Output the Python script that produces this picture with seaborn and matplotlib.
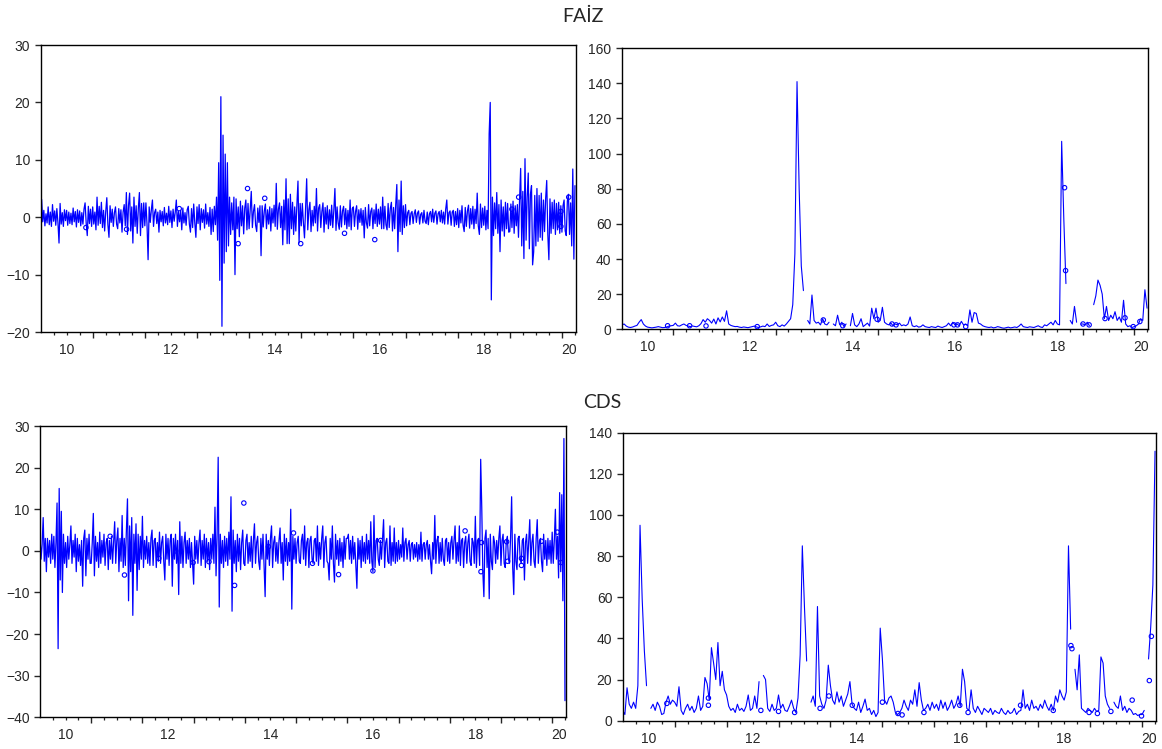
import numpy as np
import pandas as pd
import matplotlib
matplotlib.use("Agg")
import matplotlib.pyplot as plt
import seaborn as sns
from matplotlib.ticker import MultipleLocator, FixedLocator

nan = float("nan")

# all series start January 2010; returns are read at 48 points a year,
# the volatility series at 24 points a year
START_YEAR = 2010
RET_PER_YEAR = 48
VOL_PER_YEAR = 24
X_END = 2020.27
year_labels = ["10", "12", "14", "16", "18", "20"]

# FAIZ returns (two rows per year, 2010 ... 2020)
faiz_ret = [
    -3.0, 3.1, -0.8, 1.2, -1.5, 0.6, -1.0, 1.8, -1.3, 0.9, -1.6, 2.2, -0.7, 1.1, -1.4, 1.5, -0.9, -4.5, 2.4, -1.2, 0.8, -1.6, 1.3, -0.6,
    1.2, -1.4, 0.9, -1.1, 0.7, -1.3, 1.6, -0.8, 1.0, -1.7, 1.3, -0.9, 1.1, -1.5, 0.8, -1.2, 1.4, 2.5, -1.0, -3.2, 1.9, -1.1, 1.4, -1.6,
    1.8, -1.2, 0.9, -2.2, 3.5, -1.4, 1.9, -1.1, 2.6, -1.8, 1.2, -2.4, 1.0, 3.4, -1.3, -3.5, 2.0, -0.9, 1.4, -1.6, 0.8, 1.8, -1.2, -2.0,
    1.5, -1.0, 1.3, -2.6, 0.9, 2.2, -1.5, 4.3, -3.0, 2.1, 4.2, -2.4, 1.8, -4.5, 3.5, -1.6, 2.0, -2.8, 1.5, 4.3, -3.2, 2.4, -1.8, 2.5,
    -1.5, 2.5, -1.2, -7.4, 1.8, -0.9, 1.3, 3.0, -1.6, 0.8, 1.4, -1.1, 0.9, -2.6, 1.2, -0.8, 1.0, -1.5, 1.7, -1.0, 0.7, -1.3, 1.9, -0.9,
    1.1, -1.8, 1.4, -0.7, 0.9, 3.0, -1.6, 1.0, -0.8, 1.2, -2.2, 1.6, -1.0, 0.8, -1.4, 1.3, 1.9, -1.2, -2.6, 1.5, -1.8, 2.3, -1.0, -3.5,
    1.8, -1.1, 2.2, -2.2, 1.5, -0.9, 1.3, -1.9, 2.3, -1.2, 0.8, -1.6, 1.7, -3.0, 1.4, -2.5, 1.9, -1.3, 3.5, -4.0, 9.5, -11.0, 21.0, -19.0,
    14.3, -8.0, 11.0, -6.0, 9.5, -5.0, 3.5, -3.0, 2.5, -2.2, 3.5, -10.0, 3.2, -2.0, 1.8, -3.4, 2.8, -1.5, 2.0, -2.9, 1.6, 3.0, -2.2, 2.4,
    -2.0, 1.2, 4.5, -1.8, 1.0, 2.2, -1.4, -2.5, 1.6, -0.9, 2.0, -6.7, 2.0, -1.7, 1.1, 2.3, -2.0, 1.3, -1.2, 1.8, -2.4, 1.5, -1.0, 2.1,
    -1.6, 5.9, -2.1, 1.4, 2.5, -1.8, 1.9, -4.8, 3.0, -2.2, 6.7, -4.6, 3.2, -4.6, 4.0, -2.0, 2.6, -3.0, 1.8, -2.4, 2.2, 6.3, -4.5, 2.4,
    -1.5, 2.4, -1.0, -3.6, 1.4, 6.7, -2.2, 1.3, 2.6, -2.5, 1.2, -1.5, 1.9, -1.0, 5.0, -2.4, 1.6, 2.2, -1.8, 1.0, 2.5, -2.6, 1.7, -1.2,
    2.0, -2.0, 1.3, -1.4, 2.1, -1.8, 1.2, 5.0, -2.3, 1.8, -1.0, -2.1, 2.0, -1.7, 1.1, 1.9, -1.3, 1.5, -2.0, 1.2, -1.6, 3.0, -2.2, 1.5,
    1.8, -1.6, 1.0, 2.0, -2.1, 1.3, -0.9, 1.5, -1.4, 1.2, -3.6, 1.7, -1.0, -1.9, 2.2, -1.5, 1.0, 1.6, -2.0, 1.3, -1.1, 2.3, -1.6, 1.4,
    -1.2, 1.8, -2.0, 3.5, -2.0, 1.9, -1.3, -2.2, 2.4, -1.8, 1.5, 2.6, -2.4, 1.7, -2.0, 2.2, 5.7, -6.0, 3.0, -2.5, 6.3, -3.0, 2.0, -1.8,
    2.2, -1.5, 0.8, 1.2, -1.3, 0.7, 1.0, -1.1, 0.6, 1.3, -0.9, 0.7, 1.1, -1.2, 0.5, 0.8, -1.0, 1.2, -0.7, -1.1, 0.9, -1.3, 0.6, 1.0,
    -0.8, 1.4, -0.9, 0.7, 1.1, -1.2, 0.6, 1.0, -0.8, 1.2, -1.0, 0.9, -1.2, 1.4, 3.0, -1.2, 0.8, 1.1, -1.4, 0.9, 1.2, -1.6, 1.0, -1.3,
    1.5, -1.8, 1.2, -1.0, 2.0, -1.4, -2.5, 1.7, -1.6, 1.1, 2.1, -1.9, 1.5, -1.2, 1.9, -2.0, 1.4, -1.1, 4.2, -1.5, -3.0, 2.3, -1.8, 1.6,
    -1.4, 1.9, -2.2, 1.2, -2.0, 14.5, 20.0, -14.4, 3.5, -3.2, 2.5, -2.0, 4.3, -2.8, 2.2, -6.0, 3.0, -2.4, 1.8, -3.3, 2.6, -2.0, 2.4, -2.6,
    -2.5, 2.3, -1.8, 2.8, -2.8, 2.0, -1.5, 2.2, -3.5, 3.0, 8.5, -5.0, 4.5, -7.2, 10.2, -4.0, 3.5, 7.7, -5.5, 4.0, 5.5, -8.3, -6.0, 3.8,
    -5.0, 5.0, -4.2, 3.8, -3.5, 4.2, -4.0, 3.0, -2.5, 3.2, 6.4, -3.0, -7.4, 3.2, -2.8, 2.6, -2.0, 3.0, -3.0, 2.4, -2.2, 2.6, -2.8, 2.0,
    -2.6, 2.0, 3.0, -2.4, -3.2, 2.8, 4.0, -3.0, 2.5, -5.0, 8.4, -7.3, 5.5,
]
faiz_ret_iso_t = [2010.87, 2011.65, 2012.66, 2013.79, 2013.97, 2014.30, 2014.99, 2015.83, 2016.41, 2019.04, 2019.17, 2019.98, 2019.98, 2020.13]
faiz_ret_iso_v = [-1.8, -2.1, 1.5, -4.6, 5.0, 3.3, -4.6, -2.8, -3.9, 1.4, 3.5, 1.0, -1.6, 3.5]

# FAIZ volatility (one row per year)
faiz_vol = [
    2.5, 3.0, 1.8, 1.2, 1.0, 1.3, 1.8, 2.2, 4.0, 5.5, 3.0, 1.8, 1.2, 1.0, 0.8, 1.0, 1.2, 1.5, 1.2, 0.9, 1.0, 1.3, 1.8, 2.0,
    2.2, 3.5, 2.0, 1.8, 2.5, 3.0, 2.2, 1.8, 1.5, 1.9, 1.6, 1.4, 2.0, 3.2, 5.5, 4.0, 6.0, 5.0, 3.5, 5.8, 3.0, 6.5, 4.2, 7.0,
    4.5, 10.5, 3.0, 2.2, 1.8, 1.5, 1.6, 1.2, 1.0, 1.3, 1.1, 0.9, 1.2, 1.5, 1.8, 1.3, 1.0, 1.4, 1.8, 1.5, 3.0, 1.6, 2.2, 2.5,
    4.0, 2.0, 1.5, 2.5, 1.8, 3.0, 4.5, 6.0, 14.0, 43.0, 141.0, 80.0, 36.0, 22.0, nan, 5.0, 3.0, 19.5, 5.0, 3.5, 4.0, 2.5, 6.0, 3.0,
    2.5, 4.0, nan, 3.0, 2.0, 8.0, 2.5, 4.0, 1.5, 3.0, nan, 2.0, 9.0, 2.5, 1.5, 3.0, 6.0, 1.5, 2.5, 3.5, 1.8, 12.0, 6.0, 12.0,
    4.0, 5.0, 12.5, 4.0, 3.0, 2.5, 3.5, 2.0, 3.0, 2.5, 3.5, 2.0, 2.5, 2.0, 3.0, 7.0, 2.0, 1.5, 2.0, 1.2, 1.5, 2.5, 1.5, 1.2,
    1.0, 1.5, 1.2, 1.0, 1.8, 1.3, 1.0, 1.5, 2.0, 3.5, 2.0, 4.0, 2.5, 3.0, 2.0, 4.5, 2.5, 3.0, 2.0, 11.0, 4.0, 9.5, 9.0, 3.5,
    3.0, 2.0, 1.5, 1.2, 1.0, 1.3, 0.8, 1.0, 1.5, 1.2, 0.8, 0.6, 0.9, 1.2, 0.8, 1.0, 1.3, 1.0, 1.8, 3.0, 1.5, 1.2, 1.0, 1.4,
    1.2, 1.0, 1.5, 2.0, 1.3, 1.0, 2.5, 2.0, 3.0, 4.0, 2.5, 5.0, 3.0, 2.5, 107.0, 63.0, 26.0, nan, 5.0, 3.0, 13.0, 4.0, nan, 3.0,
    3.0, 2.5, 4.0, 2.0, nan, 14.0, 19.0, 28.0, 25.0, 20.0, 6.0, 13.0, 5.0, 8.0, 6.0, 10.0, 5.0, 7.0, 4.0, 16.5, 3.0, 1.5, 2.0, 1.0,
    1.5, 2.0, 3.0, 6.0, 5.0, 22.5, 12.0,
]
faiz_vol_iso_t = [2010.89, 2011.32, 2011.64, 2012.64, 2013.93, 2014.31, 2014.98, 2015.27, 2015.35, 2016.48,
                  2016.55, 2016.71, 2018.64, 2018.66, 2019.00, 2019.12, 2019.43, 2019.82, 2019.98, 2020.11]
faiz_vol_iso_v = [2.0, 2.0, 1.9, 1.5, 5.3, 2.0, 5.7, 3.0, 2.5, 2.5, 2.5, 1.5, 80.6, 33.4, 3.0, 2.5, 6.1, 6.5, 1.5, 4.4]

# CDS returns (two rows per year)
cds_ret = [
    4.0, -2.0, 1.5, 8.0, -2.5, 3.0, -5.0, 3.0, -1.5, 2.5, -3.0, 4.0, -2.0, 3.5, -4.0, 2.0, 11.5, -23.5, 15.0, -7.0, 9.5, -10.0, 4.0, -3.0,
    2.0, -4.0, 3.5, -2.0, 1.5, 6.0, -3.0, 2.5, -1.5, 4.0, -5.0, 3.0, -2.5, 1.5, -3.5, 2.5, -8.5, 3.0, 5.0, -6.0, 3.0, -2.0, 4.0, -3.0,
    -3.0, 2.0, 9.0, -6.0, 3.5, -2.5, 2.0, -4.0, 4.5, -3.0, 2.5, -1.5, 4.0, -3.5, 2.0, 3.0, -4.5, 2.5, -2.0, 3.5, -3.0, 2.0, 7.0, -3.0,
    2.5, 5.5, -5.0, 3.0, -2.5, 8.5, -4.0, 3.0, -3.5, 5.0, 12.5, -12.0, 6.0, -5.0, 8.0, -15.5, 4.0, -3.0, 6.5, -9.5, 4.0, -4.5, 3.5, -2.0,
    8.3, -4.0, 2.5, -2.0, 3.5, -3.0, 2.0, -3.5, 3.0, 5.0, -3.5, 2.5, 3.0, -4.0, 2.0, -2.5, 4.5, -3.0, 2.0, 3.5, -2.5, -7.0, 4.0, -2.0,
    3.0, -3.5, 2.5, 4.0, -8.5, 3.0, -2.0, 4.0, -3.0, 2.5, -10.5, 7.0, -3.0, 3.5, -4.0, 2.0, 4.5, -3.0, 2.5, -2.0, 3.0, -4.0, 2.0, -3.0,
    -8.0, 3.5, -2.0, 2.5, -3.0, 2.0, 5.0, -3.5, 2.5, -2.0, 4.0, -4.0, 3.0, -2.5, 2.0, -4.5, 3.0, -2.0, 4.0, -3.0, 10.5, -6.0, 4.0, 22.5,
    -13.5, 4.0, -3.0, 2.5, -4.0, 3.5, -2.5, 3.0, -3.5, 4.5, -2.0, 13.0, -14.5, 5.0, -3.0, 2.5, -5.0, 4.0, -2.5, 3.0, -4.5, 2.0, 5.0, -3.0,
    -3.5, 2.5, 4.0, -3.0, 2.0, -2.5, 3.5, -4.0, 2.5, 6.5, -3.0, 2.0, 3.5, -2.5, -4.5, 3.0, -2.0, 4.0, -3.5, -11.0, 4.0, -2.0, 2.5, -3.5,
    3.0, 6.0, -4.0, 2.0, 3.5, -2.5, 2.0, -3.0, 2.5, 5.5, -3.0, 2.0, -7.0, 4.0, -2.5, 3.0, -3.5, 2.0, -2.5, 10.0, -14.0, 3.5, -2.0, 3.0,
    -3.0, 2.0, 3.5, -2.5, -3.0, 2.5, 4.0, -2.0, 6.0, -3.5, 2.0, 3.0, -4.0, 2.5, 3.5, -2.0, -3.0, 2.5, 3.0, -2.5, 6.0, -3.5, 2.0, -2.0,
    3.0, 6.0, -4.0, 2.0, 3.5, -2.5, -3.0, -7.0, 3.0, -2.0, 6.0, -3.0, -7.5, 4.0, -2.0, 2.5, -3.5, 3.0, -2.5, 2.0, -4.0, 3.5, -2.0, 3.0,
    3.0, 4.0, -2.0, 2.5, -3.0, 3.5, -2.0, 2.0, -3.5, -9.0, 3.0, -2.0, 2.5, -4.0, 3.5, -2.5, 2.0, -3.0, 4.0, -2.0, 2.5, -3.0, 7.0, -2.5,
    -5.0, 8.5, -4.0, 2.5, 3.0, -2.0, -3.5, 2.5, -2.0, 3.0, 7.5, -4.0, 2.0, 3.0, -2.5, -3.0, 6.0, -3.5, 2.0, -2.5, 5.5, -3.0, 2.0, -2.5,
    2.5, -2.0, 1.5, -1.5, 5.5, -2.5, 2.0, 3.0, -2.0, 1.5, 2.5, -2.5, 1.5, 2.0, -2.0, 1.5, -1.5, 2.0, -2.5, 1.5, -2.0, 4.5, -2.5, 1.5,
    2.0, -2.0, 1.5, 2.5, -2.0, 1.5, -2.5, -5.5, 2.0, -2.0, 8.5, -3.0, 2.5, 3.5, -3.0, 2.0, -2.5, 3.0, -2.0, -3.5, 2.5, 3.0, -2.5, 2.0,
    -3.0, 2.0, 3.5, -2.0, 2.5, 6.0, -3.0, 2.0, -2.5, 6.0, -3.5, 2.5, 3.0, -4.0, 2.0, 3.5, -3.0, 2.0, 4.0, -2.5, -3.5, 3.0, 2.0, -3.0,
    8.3, -4.0, 2.5, 3.0, -3.5, 22.0, 10.5, -5.0, -11.0, 3.0, 5.0, -4.0, 3.0, -11.5, 4.0, -2.5, -4.5, 3.5, 2.0, -3.0, 2.5, -2.0, 3.0, 6.0,
    -3.5, 2.5, 4.0, -3.0, -4.0, 2.5, 3.5, -2.0, -3.0, 3.0, 13.0, -4.0, -10.5, 4.0, -2.5, -4.5, 3.0, 3.5, -2.0, -3.0, 2.5, 3.0, -7.0, 2.0,
    4.0, -3.0, 2.5, 7.5, -3.5, 2.0, 4.0, -2.5, -4.0, 3.0, 7.5, -3.0, 2.0, 3.0, -2.5, -5.0, 4.0, -2.0, 2.5, -3.5, 3.0, -2.0, 2.5, -3.0,
    4.5, -3.0, 2.5, 10.0, -2.0, 3.5, -6.5, 14.0, -5.0, 13.5, -12.0, 27.0, -36.0,
]
cds_ret_iso_t = [2011.37, 2011.65, 2012.32, 2012.65, 2012.99, 2013.30, 2013.80, 2013.98, 2014.46, 2014.95, 2015.32, 2015.83, 2016.50,
                 2016.65, 2018.30, 2018.61, 2018.62, 2019.11, 2019.13, 2019.40, 2019.40, 2019.79, 2019.95, 2020.10, 2020.17]
cds_ret_iso_v = [3.5, -5.8, -1.8, 0.0, -2.8, -2.6, -8.3, 11.5, 1.0, 4.3, -3.0, -5.7, -4.8,
                 2.5, 4.8, -5.0, 2.0, 2.2, -2.5, -3.5, -1.8, 2.3, 0.5, 4.5, -2.8]

# CDS volatility (one row per year)
cds_vol = [
    5.0, 3.0, 16.0, 8.0, 6.0, 9.0, 6.0, 17.0, 95.0, 59.0, 34.0, 17.0, nan, 6.0, 8.0, 5.0, 9.0, 7.0, 3.0, 3.5, 9.0, 12.0, 8.0, 10.0,
    9.0, 7.0, 16.5, 5.0, 3.0, 6.0, 8.0, 5.0, 7.0, 4.0, 6.0, 12.0, 5.0, 7.0, 21.0, 18.0, 10.0, 35.5, 28.0, 20.0, 38.0, 17.0, 24.0, 15.0,
    12.5, 7.0, 5.0, 6.0, 4.0, 8.0, 5.0, 6.0, 4.5, 7.0, 12.5, 5.0, 6.0, 12.0, 6.0, 19.0, nan, 22.0, 20.0, 6.0, 4.5, 8.0, 5.0, 6.0,
    12.5, 6.0, 8.0, 5.0, 4.5, 7.0, 10.0, 6.0, 4.0, 11.0, 32.0, 85.0, 55.0, 29.0, nan, 9.0, 12.0, 7.0, 55.5, 12.0, 8.0, 6.0, 10.0, 27.0,
    17.0, 10.0, 8.0, 14.0, 9.0, 12.0, 7.0, 10.0, 13.0, 19.0, 8.0, 6.0, 5.0, 9.0, 4.0, 7.0, 10.5, 5.0, 6.0, 3.0, 5.0, 2.0, 4.0, 45.0,
    30.0, 10.0, 8.0, 11.0, 12.0, 9.0, 4.0, 3.0, 4.0, 6.0, 10.0, 7.0, 5.0, 10.0, 8.0, 15.0, 7.0, 18.5, 10.0, 5.0, 6.0, 8.0, 5.0, 9.0,
    6.0, 8.0, 5.0, 10.0, 6.0, 9.0, 5.0, 7.0, 10.0, 6.0, 8.0, 12.0, 7.0, 25.0, 19.0, 6.0, 5.0, 15.0, 6.0, 4.0, 7.0, 5.0, 3.0, 6.0,
    5.0, 4.0, 6.0, 3.0, 5.0, 4.0, 3.5, 6.0, 4.0, 3.0, 5.0, 3.5, 4.0, 6.0, 3.0, 4.5, 5.0, 15.0, 6.0, 8.0, 5.0, 10.0, 6.0, 7.0,
    5.0, 8.0, 6.0, 10.0, 7.0, 5.0, 8.0, 5.0, 12.0, 9.0, 15.0, 12.0, 10.0, 14.0, 85.0, 44.5, nan, 25.0, 15.0, 32.0, 6.0, 5.0, 4.0, 6.0,
    5.0, 4.0, 6.0, 4.5, 5.0, 31.0, 28.0, 12.0, 8.0, 6.0, nan, 9.0, 7.0, 6.0, 12.0, 5.0, 7.0, 4.0, 6.0, 5.0, 3.0, 3.5, 2.5, 3.0,
    3.0, 5.0, nan, 30.0, 45.5, 66.0, 131.0,
]
cds_vol_iso_t = [2010.85, 2011.65, 2011.65, 2012.66, 2013.00, 2013.31, 2013.80, 2013.97, 2014.42, 2015.00, 2015.30, 2015.38, 2015.80,
                 2016.49, 2016.65, 2017.66, 2018.29, 2018.63, 2018.65, 2018.98, 2019.14, 2019.40, 2019.81, 2019.99, 2020.14, 2020.18]
cds_vol_iso_v = [8.4, 11.0, 7.5, 5.0, 4.5, 4.0, 6.0, 12.0, 7.5, 9.0, 3.5, 2.8, 4.0,
                 7.5, 4.0, 7.5, 5.0, 36.5, 35.0, 4.0, 3.5, 4.5, 10.0, 2.3, 19.5, 41.0]

sns.set_style("white")
plt.rcParams["font.family"] = ["Liberation Sans", "DejaVu Sans"]
plt.rcParams["axes.linewidth"] = 1.0

BLUE = "#0000ff"


def to_frame(values, per_year):
    v = np.array(values, dtype=float)
    t = START_YEAR + np.arange(len(v)) / per_year
    # a new segment starts after every missing value (line is broken there)
    seg = np.cumsum(np.isnan(v))
    df = pd.DataFrame({"t": t, "value": v, "seg": seg})
    return df.dropna()


def draw_panel(ax, values, per_year, iso_t, iso_v, ylim, ystep, lw):
    sns.lineplot(data=to_frame(values, per_year), x="t", y="value", units="seg", estimator=None,
                 color=BLUE, lw=lw, ax=ax, legend=False)
    sns.scatterplot(x=iso_t, y=iso_v, ax=ax, marker="o", s=10, facecolors="none",
                    edgecolor=BLUE, linewidth=0.8, legend=False, zorder=3)
    ax.set_xlim(START_YEAR, X_END)
    ax.set_ylim(*ylim)
    ax.set_xlabel("")
    ax.set_ylabel("")
    ax.yaxis.set_major_locator(MultipleLocator(ystep))
    ax.xaxis.set_major_locator(FixedLocator(list(range(2011, 2021))))
    quarters = [y + q / 4 for y in range(2010, 2021) for q in (1, 2, 3) if y + q / 4 < X_END]
    ax.xaxis.set_minor_locator(FixedLocator(quarters))
    ax.tick_params(axis="x", which="major", length=4.5, width=1.0, labelbottom=False, bottom=True)
    ax.tick_params(axis="x", which="minor", length=2.3, width=0.9, bottom=True)
    ax.tick_params(axis="y", which="major", length=4.5, width=1.0, pad=3, labelsize=10, left=True)
    for s in ax.spines.values():
        s.set_color("black")
        s.set_linewidth(1.0)
    # year labels sit in the middle of each (visible) year
    label_pos = [2010.5, 2012.5, 2014.5, 2016.5, 2018.5, (2020 + X_END) / 2]
    sec = ax.secondary_xaxis("bottom")
    sec.set_xticks(label_pos, labels=year_labels)
    sec.tick_params(length=0, pad=8, labelsize=10)
    sec.spines["bottom"].set_visible(False)


fig = plt.figure(figsize=(11.62, 7.49), dpi=100)
ax_tl = fig.add_axes([0.0349, 0.5567, 0.4608, 0.3832])
ax_tr = fig.add_axes([0.5353, 0.5604, 0.4527, 0.3752])
ax_bl = fig.add_axes([0.0344, 0.0423, 0.4527, 0.3889])
ax_br = fig.add_axes([0.5359, 0.0378, 0.4590, 0.3845])

draw_panel(ax_tl, faiz_ret, RET_PER_YEAR, faiz_ret_iso_t, faiz_ret_iso_v, (-20, 30), 10, 0.9)
draw_panel(ax_tr, faiz_vol, VOL_PER_YEAR, faiz_vol_iso_t, faiz_vol_iso_v, (0, 160), 20, 0.8)
draw_panel(ax_bl, cds_ret, RET_PER_YEAR, cds_ret_iso_t, cds_ret_iso_v, (-40, 30), 10, 0.9)
draw_panel(ax_br, cds_vol, VOL_PER_YEAR, cds_vol_iso_t, cds_vol_iso_v, (0, 140), 20, 0.8)

fig.text(583 / 1162, 1 - 16 / 749, "FAİZ", ha="center", va="center", fontsize=14, family="Lato")
fig.text(602 / 1162, 1 - 402 / 749, "CDS", ha="center", va="center", fontsize=14, family="Lato")

fig.savefig("out.png", dpi=100)
